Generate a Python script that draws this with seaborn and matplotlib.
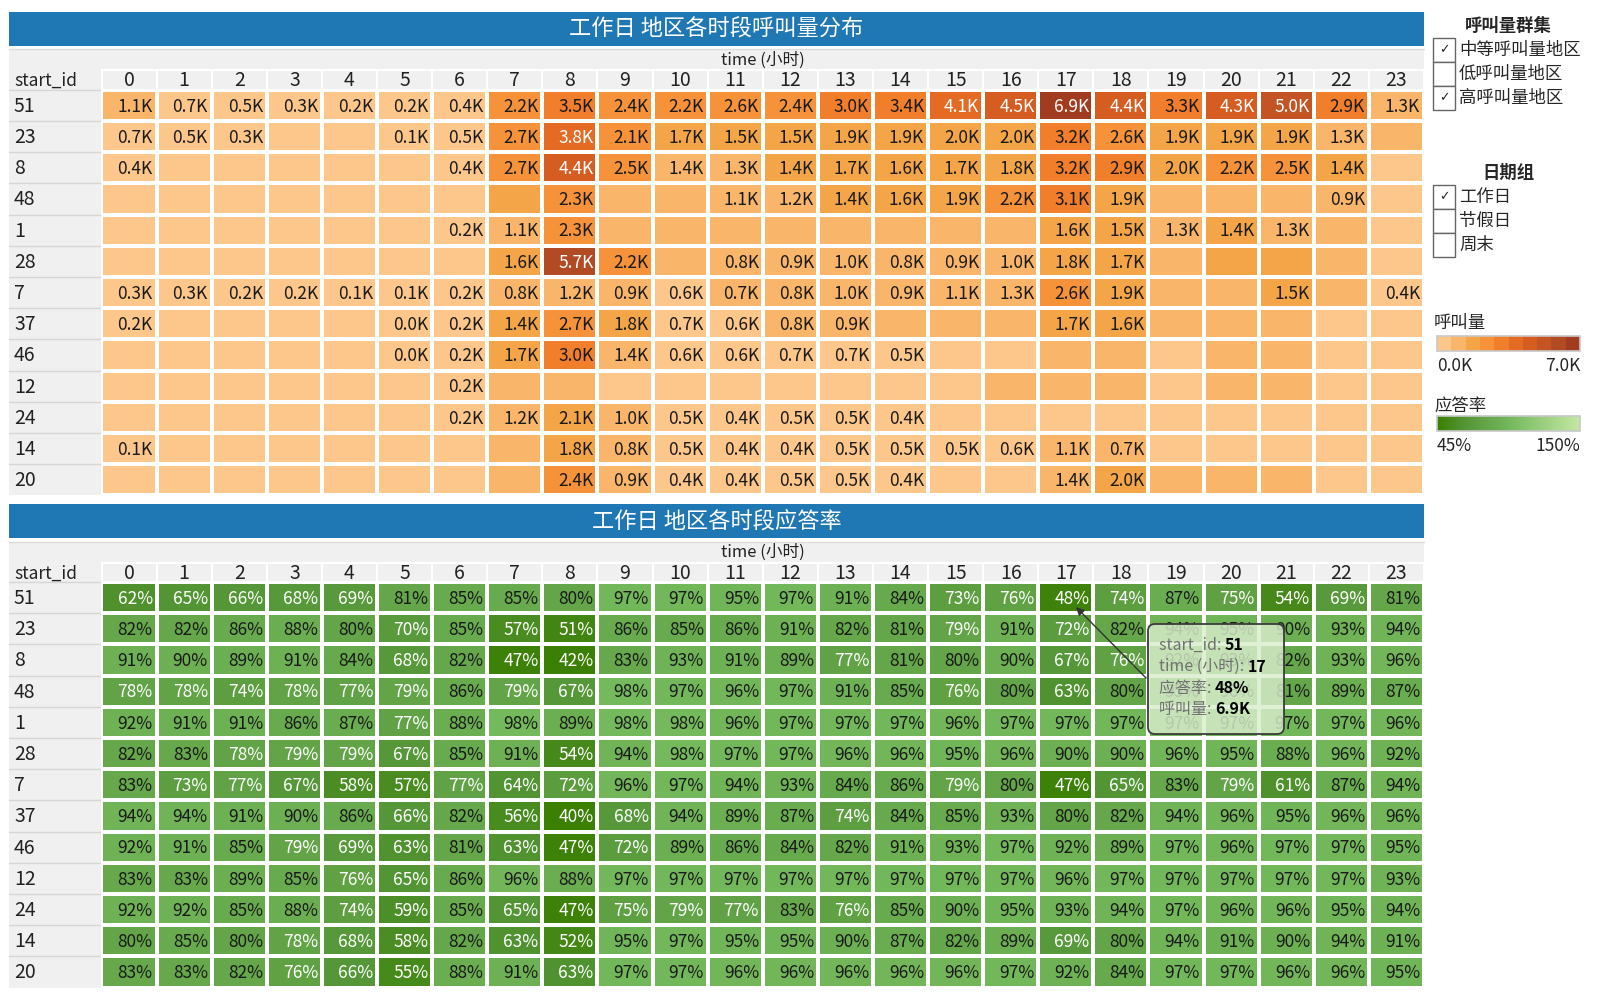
import numpy as np
import pandas as pd
import matplotlib
matplotlib.use('Agg')
import matplotlib.pyplot as plt
import seaborn as sns
from matplotlib.colors import ListedColormap, LinearSegmentedColormap
from matplotlib.patches import Rectangle, FancyBboxPatch

sns.set_theme(style='white')
plt.rcParams['font.family'] = ['Noto Sans CJK SC', 'DejaVu Sans']

# Données
start_ids = ['51', '23', '8', '48', '1', '28', '7', '37', '46', '12', '24', '14', '20']
hours = list(range(24))

# 呼叫量 (K)
calls = [
    [1.1, 0.68, 0.5, 0.3, 0.2, 0.2, 0.4, 2.2, 3.46, 2.4, 2.2, 2.6, 2.4, 3.0, 3.4, 4.1, 4.5, 6.9, 4.4, 3.3, 4.3, 5.0, 2.9, 1.3],
    [0.66, 0.5, 0.3, 0.1, 0.1, 0.1, 0.5, 2.7, 3.8, 2.12, 1.7, 1.5, 1.5, 1.9, 1.9, 2.0, 2.0, 3.2, 2.6, 1.9, 1.9, 1.9, 1.3, 0.8],
    [0.4, 0.2, 0.1, 0.1, 0.1, 0.1, 0.4, 2.7, 4.4, 2.5, 1.38, 1.3, 1.42, 1.7, 1.6, 1.7, 1.8, 3.2, 2.9, 2.0, 2.2, 2.5, 1.42, 0.6],
    [0.2, 0.1, 0.1, 0.1, 0.1, 0.1, 0.3, 1.5, 2.3, 1.0, 1.0, 1.1, 1.2, 1.42, 1.6, 1.9, 2.2, 3.1, 1.9, 1.1, 1.0, 1.0, 0.9, 0.5],
    [0.1, 0.1, 0.1, 0.1, 0.1, 0.1, 0.2, 1.1, 2.3, 1.0, 1.0, 0.9, 0.9, 1.0, 1.0, 1.1, 1.2, 1.6, 1.5, 1.3, 1.42, 1.3, 0.8, 0.4],
    [0.1, 0.1, 0.1, 0.1, 0.1, 0.1, 0.1, 1.6, 5.7, 2.2, 1.0, 0.8, 0.9, 1.0, 0.8, 0.9, 1.0, 1.8, 1.7, 1.2, 1.5, 1.5, 0.9, 0.5],
    [0.3, 0.3, 0.2, 0.2, 0.1, 0.1, 0.2, 0.8, 1.2, 0.9, 0.6, 0.72, 0.8, 1.0, 0.9, 1.1, 1.3, 2.6, 1.9, 1.0, 1.0, 1.5, 1.0, 0.4],
    [0.2, 0.1, 0.1, 0.1, 0.1, 0.04, 0.2, 1.42, 2.7, 1.8, 0.68, 0.6, 0.8, 0.9, 0.9, 0.9, 0.9, 1.7, 1.6, 0.9, 0.9, 0.9, 0.6, 0.4],
    [0.1, 0.1, 0.1, 0.1, 0.1, 0.04, 0.2, 1.7, 3.0, 1.38, 0.6, 0.6, 0.68, 0.68, 0.5, 0.5, 0.6, 0.9, 0.9, 0.6, 0.8, 0.8, 0.5, 0.3],
    [0.1, 0.1, 0.1, 0.1, 0.1, 0.1, 0.2, 0.9, 1.0, 0.5, 0.5, 0.5, 0.5, 0.5, 0.5, 0.6, 0.8, 0.9, 0.9, 0.6, 0.8, 0.8, 0.5, 0.3],
    [0.1, 0.1, 0.1, 0.1, 0.1, 0.1, 0.2, 1.2, 2.08, 1.0, 0.5, 0.4, 0.5, 0.5, 0.4, 0.4, 0.4, 0.5, 0.5, 0.4, 0.4, 0.3, 0.3, 0.2],
    [0.1, 0.1, 0.1, 0.1, 0.1, 0.1, 0.1, 0.9, 1.8, 0.8, 0.5, 0.4, 0.4, 0.5, 0.5, 0.5, 0.6, 1.1, 0.72, 0.5, 0.5, 0.5, 0.4, 0.2],
    [0.1, 0.1, 0.1, 0.1, 0.1, 0.1, 0.1, 0.9, 2.4, 0.9, 0.4, 0.4, 0.5, 0.5, 0.4, 0.5, 0.6, 1.38, 2.0, 0.9, 0.9, 0.9, 0.5, 0.3],
]

# cellules où l'étiquette est affichée (1) ou non (0)
call_label_shown = [
    '111111111111111111111111',
    '111001111111111111111110',
    '100000111111111111111110',
    '000000001001111111100010',
    '000000111000000001111100',
    '000000011101111111100000',
    '111111111111111111100101',
    '100001111111110001100000',
    '000001111111111000000000',
    '000000100000000000000000',
    '000000111111111000000000',
    '100000001111111111100000',
    '000000001111111001100000',
]

# 应答率 (%)
answer_rate = [
    [62, 65, 66, 68, 69, 81, 85, 85, 80, 97, 97, 95, 97, 91, 84, 73, 76, 48, 74, 87, 75, 54, 69, 81],
    [82, 82, 86, 88, 80, 70, 85, 57, 51, 86, 85, 86, 91, 82, 81, 79, 91, 72, 82, 94, 95, 90, 93, 94],
    [91, 90, 89, 91, 84, 68, 82, 47, 42, 83, 93, 91, 89, 77, 81, 80, 90, 67, 76, 92, 93, 82, 93, 96],
    [78, 78, 74, 78, 77, 79, 86, 79, 67, 98, 97, 96, 97, 91, 85, 76, 80, 63, 80, 95, 96, 81, 89, 87],
    [92, 91, 91, 86, 87, 77, 88, 98, 89, 98, 98, 96, 97, 97, 97, 96, 97, 97, 97, 97, 97, 97, 97, 96],
    [82, 83, 78, 79, 79, 67, 85, 91, 54, 94, 98, 97, 97, 96, 96, 95, 96, 90, 90, 96, 95, 88, 96, 92],
    [83, 73, 77, 67, 58, 57, 77, 64, 72, 96, 97, 94, 93, 84, 86, 79, 80, 47, 65, 83, 79, 61, 87, 94],
    [94, 94, 91, 90, 86, 66, 82, 56, 40, 68, 94, 89, 87, 74, 84, 85, 93, 80, 82, 94, 96, 95, 96, 96],
    [92, 91, 85, 79, 69, 63, 81, 63, 47, 72, 89, 86, 84, 82, 91, 93, 97, 92, 89, 97, 96, 97, 97, 95],
    [83, 83, 89, 85, 76, 65, 86, 96, 88, 97, 97, 97, 97, 97, 97, 97, 97, 96, 97, 97, 97, 97, 97, 93],
    [92, 92, 85, 88, 74, 59, 85, 65, 47, 75, 79, 77, 83, 76, 85, 90, 95, 93, 94, 97, 96, 96, 95, 94],
    [80, 85, 80, 78, 68, 58, 82, 63, 52, 95, 97, 95, 95, 90, 87, 82, 89, 69, 80, 94, 91, 90, 94, 91],
    [83, 83, 82, 76, 66, 55, 88, 91, 63, 97, 97, 96, 96, 96, 96, 96, 97, 92, 84, 97, 97, 96, 96, 95],
]

cluster_items = ['中等呼叫量地区', '低呼叫量地区', '高呼叫量地区']
cluster_checked = [True, False, True]
day_items = ['工作日', '节假日', '周末']
day_checked = [True, False, False]

# Couleurs
orange_steps = ['#fdc68a', '#f9b66a', '#f4a548', '#f5923a', '#f07e2a',
                '#e56a24', '#d65d22', '#c55424', '#b24a23', '#a13c20']
calls_cmap = ListedColormap(orange_steps)
rate_cmap = LinearSegmentedColormap.from_list(
    'rate', [(0, '#3b7f04'), (0.2, '#559638'), (0.5, '#74b85c'), (1, '#c4e8a4')])
BLUE = '#1f77b4'
GRAY = '#f0f0f0'

W, H = 1600, 1000
X0, X1 = 101.5, 1424
COL_W = (X1 - X0) / 24
ROW_H = 31.2

fig = plt.figure(figsize=(16, 10), dpi=100)
canvas = fig.add_axes([0, 0, 1, 1], zorder=0)
canvas.set_xlim(0, W)
canvas.set_ylim(H, 0)
canvas.axis('off')

calls_df = pd.DataFrame(calls, index=start_ids, columns=hours)
rate_df = pd.DataFrame(answer_rate, index=start_ids, columns=hours)


def draw_panel(top, title, df, cmap, vmin, vmax, labels, colors):
    canvas.add_patch(Rectangle((9, top), X1 - 9, 34, color=BLUE, lw=0))
    canvas.text((9 + X1) / 2, top + 17, title, color='white', fontsize=16,
                ha='center', va='center')
    hdr = top + 37.6
    col_top = top + 58.6
    cell_top = top + 78
    cell_bot = cell_top + 13 * ROW_H
    canvas.add_patch(Rectangle((9, hdr), X0 - 9, cell_bot - hdr, color=GRAY, lw=0))
    canvas.add_patch(Rectangle((X0, hdr), X1 - X0, col_top - hdr, color=GRAY, lw=0))
    canvas.plot([9, X1], [hdr, hdr], color='#dcdcdc', lw=1)
    for j, h in enumerate(hours):
        canvas.add_patch(Rectangle((X0 + j * COL_W, col_top), COL_W, cell_top - col_top,
                                   fc=GRAY, ec='white', lw=1.5))
        canvas.text(X0 + (j + 0.5) * COL_W, (col_top + cell_top) / 2 + 1, str(h),
                    fontsize=14, ha='center', va='center', color='#222')
    canvas.text((X0 + X1) / 2, (hdr + col_top) / 2, 'time (小时)', fontsize=12,
                ha='center', va='center', color='#222')
    canvas.text(14, (col_top + cell_top) / 2 + 1, 'start_id', fontsize=12.5,
                ha='left', va='center', color='#222')
    for i, s in enumerate(start_ids):
        y = cell_top + i * ROW_H
        canvas.plot([9, X0], [y, y], color='#d6d6d6', lw=1)
        canvas.text(14, y + ROW_H / 2 + 1, s, fontsize=14, ha='left', va='center', color='#222')

    ax = fig.add_axes([X0 / W, 1 - cell_bot / H, (X1 - X0) / W, (cell_bot - cell_top) / H], zorder=1)
    sns.heatmap(df, ax=ax, cmap=cmap, vmin=vmin, vmax=vmax, cbar=False,
                linewidths=1.5, linecolor='white', xticklabels=False, yticklabels=False)
    ax.set_xlabel('')
    ax.set_ylabel('')
    for i in range(len(start_ids)):
        for j in range(len(hours)):
            if labels[i][j]:
                ax.text(j + 0.93, i + 0.54, labels[i][j], ha='right', va='center',
                        fontsize=12.5, color=colors[i][j])
    return ax


call_labels = [[f'{v:.1f}K' if call_label_shown[i][j] == '1' else ''
                for j, v in enumerate(row)] for i, row in enumerate(calls)]
call_colors = [['white' if v >= 3.5 else '#1a1a1a' for v in row] for row in calls]
rate_labels = [[f'{v}%' for v in row] for row in answer_rate]
rate_colors = [['white' if v < 80 else '#1a1a1a' for v in row] for row in answer_rate]

draw_panel(11.7, '工作日 地区各时段呼叫量分布', calls_df, calls_cmap, 0, 7, call_labels, call_colors)
draw_panel(504, '工作日 地区各时段应答率', rate_df, rate_cmap, 45, 150, rate_labels, rate_colors)

# Légendes à droite
def checklist(title, y_title, y_first, items, checked):
    canvas.text(1508, y_title, title, fontsize=12.5, weight='bold', ha='center', va='center')
    for k, (name, on) in enumerate(zip(items, checked)):
        y = y_first + k * 24
        canvas.add_patch(Rectangle((1433, y), 22, 24, fc='white', ec='#666', lw=1))
        if on:
            canvas.text(1444, y + 12, '✓', fontsize=9, ha='center', va='center',
                        family=['DejaVu Sans'], weight='bold')
        canvas.text(1459, y + 12, name, fontsize=12.5, ha='left', va='center')


checklist('呼叫量群集', 26, 38, cluster_items, cluster_checked)
checklist('日期组', 173, 185, day_items, day_checked)

canvas.text(1434, 323, '呼叫量', fontsize=12.5, ha='left', va='center')
step_w = (1580 - 1437) / len(orange_steps)
for k, c in enumerate(orange_steps):
    canvas.add_patch(Rectangle((1437 + k * step_w, 336), step_w, 15, fc=c, lw=0))
canvas.add_patch(Rectangle((1437, 336), 1580 - 1437, 15, fill=False, ec='#c8c8c8', lw=1.2))
canvas.text(1437, 366, '0.0K', fontsize=12.5, ha='left', va='center')
canvas.text(1580, 366, '7.0K', fontsize=12.5, ha='right', va='center')

canvas.text(1434, 406, '应答率', fontsize=12.5, ha='left', va='center')
canvas.imshow(np.linspace(45, 150, 256)[None, :], cmap=rate_cmap, vmin=45, vmax=150,
              extent=[1437, 1580, 431, 416], aspect='auto', zorder=2)
canvas.add_patch(Rectangle((1437, 416), 1580 - 1437, 15, fill=False, ec='#c8c8c8', lw=1.2, zorder=3))
canvas.text(1437, 446, '45%', fontsize=12.5, ha='left', va='center')
canvas.text(1580, 446, '150%', fontsize=12.5, ha='right', va='center')
canvas.set_xlim(0, W)
canvas.set_ylim(H, 0)

# Infobulle
overlay = fig.add_axes([0, 0, 1, 1], zorder=5)
overlay.set_xlim(0, W)
overlay.set_ylim(H, 0)
overlay.axis('off')
overlay.patch.set_alpha(0)

overlay.annotate('', xy=(1074, 605), xytext=(1148, 680),
                 arrowprops=dict(arrowstyle='-|>', color='#333333', lw=1, mutation_scale=12))
overlay.add_patch(FancyBboxPatch((1148, 624), 136, 110, boxstyle='round,pad=0,rounding_size=7',
                                 fc=(0.85, 0.93, 0.80, 0.82), ec='#3c3c3c', lw=1.3))
tip_rows = [('start_id: ', start_ids[0]),
            ('time (小时): ', str(hours[17])),
            ('应答率: ', f'{answer_rate[0][17]}%'),
            ('呼叫量: ', f'{calls[0][17]:.1f}K')]
renderer = fig.canvas.get_renderer()
inv = overlay.transData.inverted()
for k, (lab, val) in enumerate(tip_rows):
    y = 645 + k * 21.5
    t = overlay.text(1159, y, lab, fontsize=11.5, color='#707070', ha='left', va='center')
    bb = t.get_window_extent(renderer=renderer)
    x_end = inv.transform((bb.x1, bb.y0))[0]
    overlay.text(x_end, y, val, fontsize=11.5, weight='bold', color='black', ha='left', va='center')

fig.savefig('out.png', dpi=100)
